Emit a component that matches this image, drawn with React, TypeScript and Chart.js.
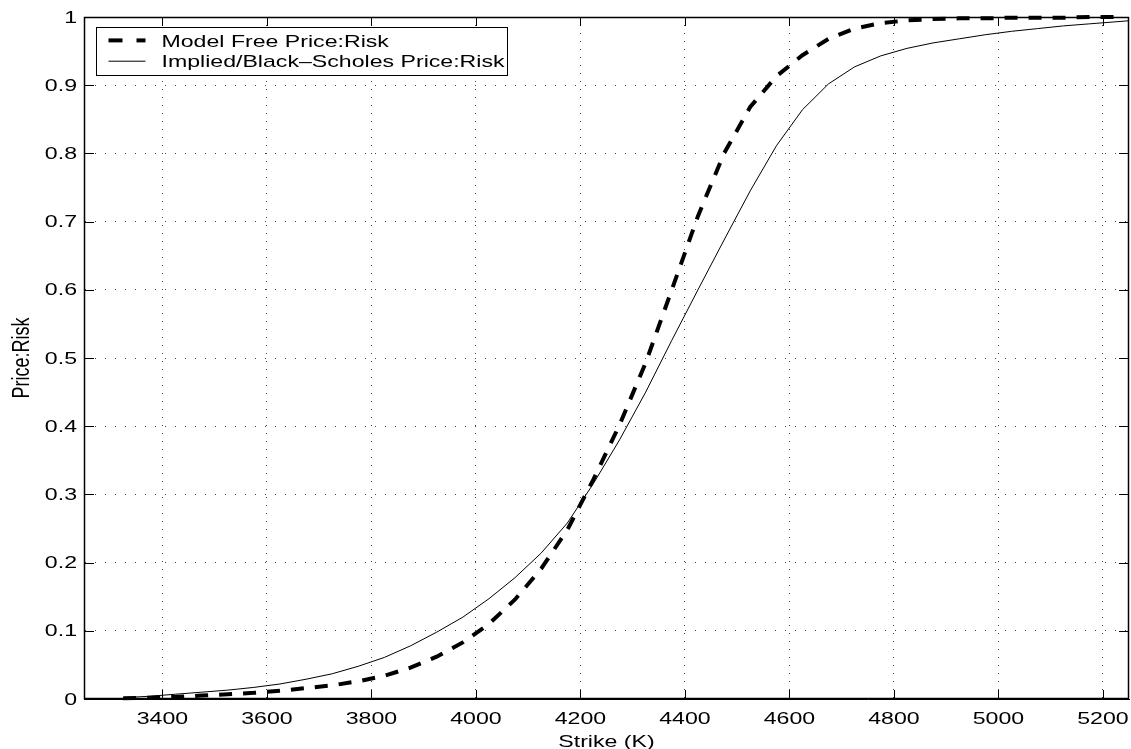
import { useEffect, useRef } from "react";
import { Chart, registerables } from "chart.js";

Chart.register(...registerables);

// ---- data ----
const strikes = [
  3325, 3375, 3425, 3475, 3525, 3575, 3625, 3675, 3725, 3775,
  3825, 3875, 3925, 3975, 4025, 4075, 4125, 4175, 4225, 4275,
  4325, 4375, 4425, 4475, 4525, 4575, 4625, 4675, 4725, 4775,
  4825, 4875, 4925, 4975, 5025, 5075, 5125, 5175, 5225, 5275,
];
const modelFree = [
  0.001, 0.002, 0.003, 0.005, 0.007, 0.009, 0.012, 0.016, 0.020, 0.026,
  0.034, 0.046, 0.062, 0.083, 0.110, 0.146, 0.191, 0.248, 0.322, 0.402,
  0.493, 0.600, 0.708, 0.800, 0.868, 0.913, 0.944, 0.968, 0.983, 0.991,
  0.995, 0.997, 0.998, 0.998, 0.999, 0.999, 0.999, 1.0, 1.0, null,
];
const blackScholes = [
  0.002, 0.004, 0.007, 0.010, 0.013, 0.017, 0.022, 0.029, 0.037, 0.048,
  0.061, 0.078, 0.098, 0.120, 0.147, 0.178, 0.214, 0.258, 0.316, 0.380,
  0.450, 0.526, 0.600, 0.673, 0.745, 0.811, 0.864, 0.902, 0.927, 0.943,
  0.954, 0.962, 0.968, 0.974, 0.979, 0.983, 0.987, 0.990, 0.993, 0.996,
];
const xTickValues = [3400, 3600, 3800, 4000, 4200, 4400, 4600, 4800, 5000, 5200];
const yTickValues = [0, 0.1, 0.2, 0.3, 0.4, 0.5, 0.6, 0.7, 0.8, 0.9, 1];
const yTickLabels = ["0", "0.1", "0.2", "0.3", "0.4", "0.5", "0.6", "0.7", "0.8", "0.9", "1"];
const seriesLabels = ["Model Free Price:Risk", "Implied/Black\u2013Scholes Price:Risk"];
const xTitle = "Strike (K)";
const yTitle = "Price:Risk";
const xRange = [3250, 5250];
const yRange = [0, 1];

// ---- drawing helpers ----
const SX = 1.36; // horizontal stretch of all text, as in the reference
const FS = 17;
const FAMILY = '"Liberation Sans", Arial, Helvetica, sans-serif';

function drawText(
  ctx: CanvasRenderingContext2D,
  text: string,
  x: number,
  y: number,
  align: CanvasTextAlign,
  baseline: CanvasTextBaseline,
  size = FS
) {
  ctx.save();
  ctx.translate(x, y);
  ctx.scale(SX, 1);
  ctx.font = `${size}px ${FAMILY}`;
  ctx.textAlign = align;
  ctx.textBaseline = baseline;
  ctx.fillStyle = "#000";
  ctx.fillText(text, 0, 0);
  ctx.restore();
}

const decorPlugin = {
  id: "decor",
  afterDraw(chart: any) {
    const { ctx, chartArea: a, scales } = chart;
    const xs = scales.x;
    const ys = scales.y;
    ctx.save();
    // frame
    ctx.strokeStyle = "#000";
    ctx.lineWidth = 1.5;
    ctx.setLineDash([]);
    ctx.strokeRect(a.left + 0.5, a.top + 0.5, a.right - a.left - 1, a.bottom - a.top - 1);
    // inward ticks on all four sides
    ctx.lineWidth = 1;
    ctx.beginPath();
    xs.ticks.forEach((t: any) => {
      const px = Math.round(xs.getPixelForValue(t.value)) + 0.5;
      ctx.moveTo(px, a.bottom);
      ctx.lineTo(px, a.bottom - 9);
      ctx.moveTo(px, a.top);
      ctx.lineTo(px, a.top + 9);
    });
    ys.ticks.forEach((t: any) => {
      const py = Math.round(ys.getPixelForValue(t.value)) + 0.5;
      ctx.moveTo(a.left, py);
      ctx.lineTo(a.left + 10, py);
      ctx.moveTo(a.right, py);
      ctx.lineTo(a.right - 10, py);
    });
    ctx.stroke();

    // tick labels
    xs.ticks.forEach((t: any) => {
      drawText(ctx, String(t.value), xs.getPixelForValue(t.value), a.bottom + 25, "center", "alphabetic");
    });
    ys.ticks.forEach((t: any) => {
      const idx = yTickValues.indexOf(t.value);
      const lab = idx >= 0 ? yTickLabels[idx] : String(t.value);
      drawText(ctx, lab, a.left - 7, ys.getPixelForValue(t.value) + 1, "right", "middle");
    });

    // axis titles
    drawText(ctx, xTitle, (a.left + a.right) / 2, a.bottom + 47.5, "center", "alphabetic");
    ctx.save();
    ctx.translate(a.left - 55, (a.top + a.bottom) / 2);
    ctx.scale(SX, 1);
    ctx.rotate(-Math.PI / 2);
    ctx.font = `18px ${FAMILY}`;
    ctx.textAlign = "center";
    ctx.textBaseline = "alphabetic";
    ctx.fillStyle = "#000";
    ctx.fillText(yTitle, 0, 0);
    ctx.restore();

    // legend box
    const datasets = chart.data.datasets;
    const boxLeft = a.left + 11.5;
    const boxTop = a.top + 10;
    const textX = boxLeft + 66;
    ctx.font = `${FS}px ${FAMILY}`;
    let maxW = 0;
    datasets.forEach((d: any) => {
      maxW = Math.max(maxW, ctx.measureText(d.label).width * SX);
    });
    const boxW = textX - boxLeft + maxW + 2;
    const boxH = 48;
    ctx.fillStyle = "#fff";
    ctx.fillRect(boxLeft, boxTop, boxW, boxH);
    ctx.strokeStyle = "#000";
    ctx.lineWidth = 1;
    ctx.strokeRect(Math.round(boxLeft) + 0.5, Math.round(boxTop) + 0.5, Math.round(boxW), Math.round(boxH));
    datasets.forEach((d: any, i: number) => {
      const ly = boxTop + 13.4 + i * 20.8;
      ctx.save();
      ctx.strokeStyle = d.borderColor;
      ctx.lineWidth = d.borderWidth;
      ctx.setLineDash(d.borderDash && d.borderDash.length ? [14, 14] : []);
      ctx.lineCap = "butt";
      ctx.beginPath();
      ctx.moveTo(boxLeft + 13, ly);
      ctx.lineTo(boxLeft + 50, ly);
      ctx.stroke();
      ctx.restore();
      drawText(ctx, d.label, textX, boxTop + 19.6 + i * 20.7, "left", "alphabetic");
    });
    ctx.restore();
  },
};

export default function App() {
  const canvasRef = useRef<HTMLCanvasElement | null>(null);

  useEffect(() => {
    document.body.style.margin = "0";
    const canvas = canvasRef.current;
    if (!canvas) return;

    const mfData = strikes
      .map((k, i) => ({ x: k, y: modelFree[i] }))
      .filter((p) => p.y !== null);
    const bsData = strikes.map((k, i) => ({ x: k, y: blackScholes[i] }));

    const chart = new Chart(canvas, {
      type: "line",
      data: {
        datasets: [
          {
            label: seriesLabels[0],
            data: mfData as any,
            borderColor: "#000",
            backgroundColor: "#000",
            borderWidth: 4,
            borderDash: [13, 11],
            borderCapStyle: "butt",
            pointRadius: 0,
            tension: 0,
            fill: false,
            clip: false as any,
          },
          {
            label: seriesLabels[1],
            data: bsData as any,
            borderColor: "#000",
            backgroundColor: "#000",
            borderWidth: 1,
            pointRadius: 0,
            tension: 0,
            fill: false,
          },
        ],
      },
      options: {
        animation: false,
        responsive: false,
        events: [],
        layout: { padding: { top: 17, right: 2, left: 0, bottom: 0 } },
        plugins: {
          legend: { display: false },
          tooltip: { enabled: false },
        },
        scales: {
          x: {
            type: "linear",
            min: xRange[0],
            max: xRange[1],
            ticks: { display: false },
            grid: { color: "#444", lineWidth: 1, drawTicks: false },
            border: { display: true, color: "#000", width: 1, dash: [1, 7] },
            afterBuildTicks: (scale: any) => {
              scale.ticks = xTickValues.map((v) => ({ value: v }));
            },
            afterFit: (scale: any) => {
              scale.height = 50;
            },
          },
          y: {
            type: "linear",
            min: yRange[0],
            max: yRange[1],
            ticks: { display: false },
            grid: { color: "#444", lineWidth: 1, drawTicks: false },
            border: { display: true, color: "#000", width: 1, dash: [1, 9] },
            afterBuildTicks: (scale: any) => {
              scale.ticks = yTickValues.map((v) => ({ value: v }));
            },
            afterFit: (scale: any) => {
              scale.width = 84;
            },
          },
        },
      },
      plugins: [decorPlugin],
    });

    return () => {
      chart.destroy();
    };
  }, []);

  return (
    <div style={{ width: 1131, height: 749, background: "#fff" }}>
      <canvas ref={canvasRef} width={1131} height={749} style={{ display: "block" }} />
    </div>
  );
}
